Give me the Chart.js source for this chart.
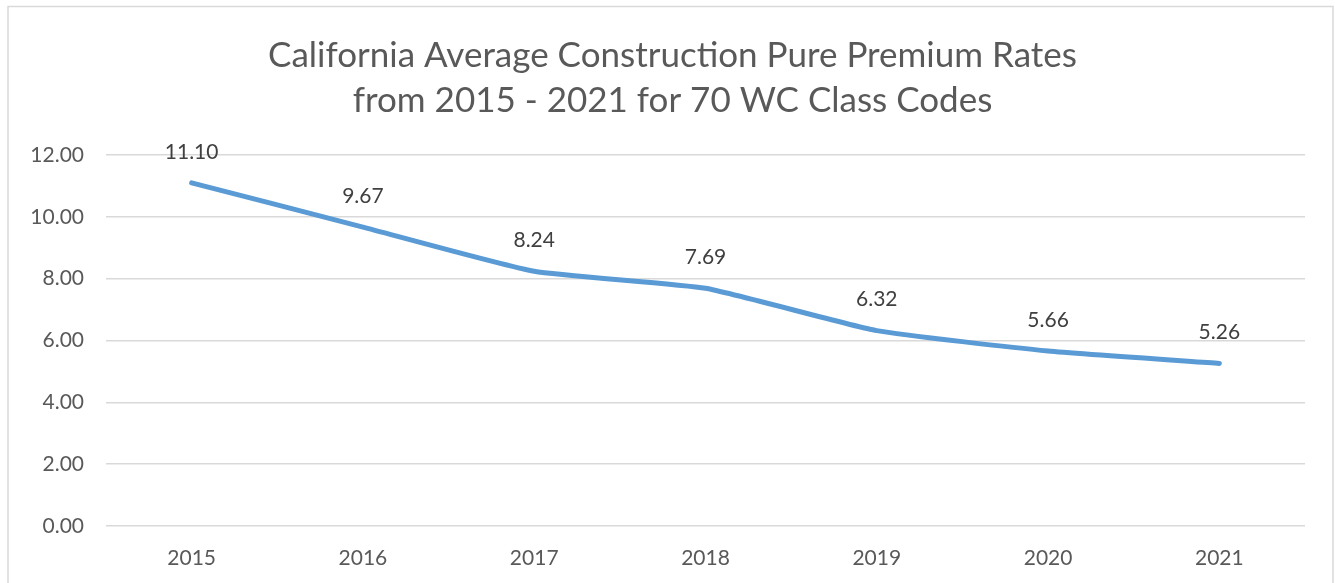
<!DOCTYPE html>
<html>
<head>
<meta charset="utf-8">
<script src="https://cdn.jsdelivr.net/npm/chart.js@4.4.0/dist/chart.umd.min.js"></script>
<style>
  html, body { margin: 0; padding: 0; background: #fff; overflow: hidden; }
  #wrap { width: 1335px; height: 583px; position: relative; }
</style>
</head>
<body>
<div id="wrap"><canvas id="premiumChart"></canvas></div>
<script>
const years = ["2015", "2016", "2017", "2018", "2019", "2020", "2021"];
const rates = [11.10, 9.67, 8.24, 7.69, 6.32, 5.66, 5.26];
const titleLines = ["California Average Construction Pure Premium Rates", "from 2015 - 2021 for 70 WC Class Codes"];

const textColor = "#595959";
const gridColor = "#d9d9d9";
const lineColor = "#5b9bd5";
const fontFamily = "Lato, 'Open Sans', sans-serif";

// frame round the chart, like the excel chart border
const framePlugin = {
  id: "frame",
  beforeDraw(chart) {
    const ctx = chart.ctx;
    ctx.save();
    ctx.strokeStyle = gridColor;
    ctx.lineWidth = 1.5;
    ctx.strokeRect(8, 6.5, 1325, 620);
    ctx.restore();
  },
};

// value labels above each point
const valueLabels = {
  id: "valueLabels",
  afterDatasetsDraw(chart) {
    const ctx = chart.ctx;
    const meta = chart.getDatasetMeta(0);
    ctx.save();
    ctx.font = "21px " + fontFamily;
    ctx.fillStyle = "#404040";
    ctx.textAlign = "center";
    ctx.textBaseline = "middle";
    meta.data.forEach((pt, i) => {
      ctx.fillText(rates[i].toFixed(2), pt.x, pt.y - 31);
    });
    ctx.restore();
  },
};

const data = {
  labels: years,
  datasets: [
    {
      data: rates,
      borderColor: lineColor,
      borderWidth: 5,
      borderCapStyle: "round",
      borderJoinStyle: "round",
      pointRadius: 0,
      tension: 0.15,
      fill: false,
    },
  ],
};

const options = {
  responsive: true,
  maintainAspectRatio: false,
  animation: false,
  layout: { padding: { left: 24, right: 14, top: 0, bottom: 0 } },
  plugins: {
    legend: { display: false },
    tooltip: { enabled: false },
    title: {
      display: true,
      text: titleLines,
      color: textColor,
      font: { family: fontFamily, size: 35, weight: "normal", lineHeight: 1.286 },
      padding: { top: 33, bottom: 32 },
    },
  },
  scales: {
    x: {
      offset: true,
      grid: { display: false },
      border: { display: false },
      ticks: { color: textColor, font: { family: fontFamily, size: 21 }, padding: 12 },
      afterFit(scale) { scale.height = 57; },
    },
    y: {
      min: 0,
      max: 12,
      ticks: {
        stepSize: 2,
        color: textColor,
        font: { family: fontFamily, size: 21 },
        padding: 22,
        callback: (v) => Number(v).toFixed(2),
      },
      grid: { color: gridColor, lineWidth: 1.5, drawTicks: false },
      border: { display: false },
      afterFit(scale) { scale.width = 82; },
    },
    // empty spacer on the right so the title sits centred on the page
    spacer: {
      position: "right",
      min: 0,
      max: 12,
      grid: { display: false },
      border: { display: false },
      ticks: { display: false },
      afterFit(scale) { scale.width = 16; },
    },
  },
};

new Chart("premiumChart", { type: "line", data, options, plugins: [framePlugin, valueLabels] });
</script>
</body>
</html>
